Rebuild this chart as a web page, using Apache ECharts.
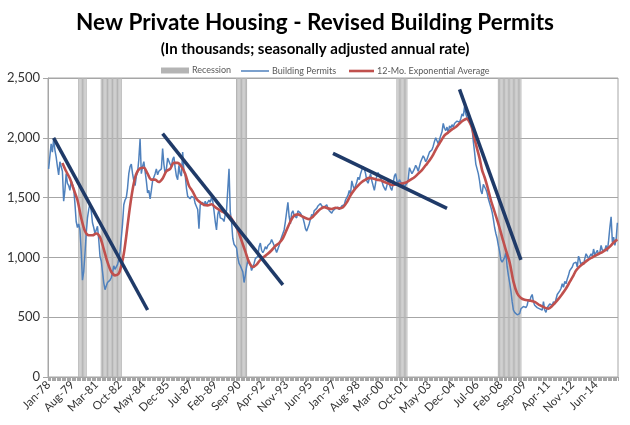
<!DOCTYPE html>
<html>
<head>
<meta charset="utf-8">
<script src="https://cdn.jsdelivr.net/npm/echarts@6/dist/echarts.min.js"></script>
<style>html,body{margin:0;padding:0;background:#fff}#c{width:630px;height:425px}</style>
</head>
<body>
<div id="c"></div>
<script>
// ---- DATA ----
const startYear = 1978;
const monthNames = ['Jan','Feb','Mar','Apr','May','Jun','Jul','Aug','Sep','Oct','Nov','Dec'];
const tickLabels = ['Jan-78','Aug-79','Mar-81','Oct-82','May-84','Dec-85','Jul-87','Feb-89','Sep-90','Apr-92','Nov-93','Jun-95','Jan-97','Aug-98','Mar-00','Oct-01','May-03','Dec-04','Jul-06','Feb-08','Sep-09','Apr-11','Nov-12','Jun-14'];
const yTicks = [0, 500, 1000, 1500, 2000, 2500];

// Building permits, thousands SAAR, monthly Jan-78 .. Nov-15
const permits = [
1740,1730,1950,1880,1990,1900,1840,1760,1690,1800,1790,1720,
1470,1560,1700,1620,1600,1560,1640,1650,1580,1450,1300,1250,
1280,1230,1050,810,880,1030,1200,1330,1400,1450,1390,1290,
1250,1200,1230,1260,1150,1010,970,880,790,730,760,790,
800,810,830,870,930,900,920,940,980,1050,1160,1280,
1440,1480,1500,1580,1700,1760,1780,1700,1640,1600,1680,1710,
1820,1990,1700,1760,1800,1720,1640,1540,1560,1490,1560,1640,
1650,1700,1740,1690,1720,1710,1740,1910,1780,1700,1740,1830,
1840,1780,1760,1820,1840,1750,1680,1650,1770,1700,1680,1880,
1720,1690,1580,1510,1520,1490,1510,1500,1500,1450,1440,1400,
1240,1440,1450,1460,1430,1470,1440,1450,1480,1460,1500,1470,
1390,1300,1230,1360,1400,1330,1340,1320,1300,1360,1390,1380,
1740,1380,1300,1160,1110,1100,1080,1000,950,930,920,880,
790,850,920,970,960,940,890,920,950,990,1000,1010,
1090,1120,1060,1040,1060,1090,1070,1100,1100,1120,1150,1160,
1100,1090,1040,1070,1100,1140,1170,1200,1230,1300,1380,1460,
1340,1280,1370,1390,1350,1340,1330,1390,1400,1370,1380,1330,
1290,1240,1220,1250,1280,1320,1360,1340,1390,1380,1410,1430,
1420,1450,1430,1430,1420,1430,1440,1410,1390,1400,1370,1390,
1380,1410,1400,1420,1400,1410,1430,1420,1440,1480,1470,1520,
1560,1530,1640,1600,1570,1600,1630,1670,1650,1700,1730,1760,
1740,1700,1640,1620,1660,1700,1640,1640,1560,1620,1690,1710,
1700,1660,1640,1600,1580,1560,1600,1640,1610,1580,1560,1550,
1680,1700,1640,1620,1650,1630,1620,1610,1590,1580,1620,1650,
1750,1740,1700,1720,1740,1770,1750,1720,1760,1800,1790,1850,
1830,1800,1820,1810,1880,1890,1900,1930,1970,2000,2010,1950,
1950,2020,2050,2120,2080,2060,2090,2040,2100,2080,2110,2090,
2120,2130,2140,2150,2130,2160,2200,2180,2260,2200,2170,2140,
2180,2140,2080,1970,1880,1780,1740,1700,1640,1560,1530,1610,
1620,1570,1540,1490,1480,1420,1380,1320,1250,1200,1160,1100,
1050,980,960,980,1000,1040,920,850,790,720,630,560,
540,550,520,510,530,570,580,590,600,580,600,650,
630,670,690,630,600,590,580,580,570,560,560,630,
560,540,580,570,610,620,600,630,610,650,690,700,
720,740,780,750,800,780,820,850,890,880,920,950,
940,960,920,1010,980,930,960,940,990,1030,1010,990,
1000,1030,1010,1070,1020,1010,1060,1020,1040,1100,1060,1060,
1060,1100,1050,1140,1250,1340,1130,1170,1100,1150,1290
];

// 12-month exponential average, read at [month index, value]
const emaPoints = [
[11,1790],[14,1720],[17,1660],[20,1570],[23,1480],[26,1330],[29,1220],[32,1185],[35,1185],[38,1200],
[41,1170],[44,1070],[47,960],[50,880],[53,850],[56,865],[58,930],[60,1030],[62,1180],[64,1350],
[66,1500],[68,1620],[70,1700],[73,1745],[76,1750],[79,1700],[82,1650],[85,1650],[88,1630],[91,1660],
[94,1720],[97,1740],[100,1790],[103,1790],[106,1760],[109,1700],[112,1600],[115,1550],[118,1490],[121,1460],
[124,1440],[127,1435],[130,1445],[133,1420],[136,1400],[139,1380],[142,1365],[145,1340],[148,1290],[151,1230],
[154,1140],[157,1050],[160,960],[163,920],[166,940],[169,980],[172,1005],[175,1030],[178,1060],[181,1095],
[184,1120],[187,1160],[190,1230],[193,1300],[196,1350],[199,1360],[202,1345],[205,1330],[208,1320],[211,1340],
[214,1375],[217,1405],[220,1420],[223,1410],[226,1405],[229,1415],[232,1410],[235,1420],[238,1460],[241,1520],
[244,1565],[247,1600],[250,1630],[253,1650],[256,1665],[259,1660],[262,1650],[265,1645],[268,1630],[271,1620],
[274,1605],[277,1610],[280,1615],[283,1620],[286,1630],[289,1650],[292,1670],[295,1700],[298,1730],[301,1770],
[304,1810],[307,1860],[310,1920],[313,1970],[316,2020],[319,2045],[322,2070],[325,2090],[328,2120],[331,2145],
[334,2160],[336,2130],[338,2080],[340,1990],[342,1910],[344,1830],[346,1730],[348,1670],[350,1600],[353,1480],
[356,1380],[359,1280],[362,1170],[365,1060],[368,960],[371,800],[374,700],[377,660],[380,645],[384,640],
[388,628],[392,600],[396,580],[399,572],[402,595],[406,640],[410,695],[413,740],[416,795],[419,850],
[421,890],[424,925],[427,950],[430,975],[433,995],[436,1012],[439,1030],[442,1045],[445,1065],[448,1090],
[451,1125],[454,1150]
];

// Recessions (month indices from Jan-78)
const recessionStart = [24, 42, 150, 278, 359];
const recessionEnd   = [30, 58, 158, 286, 377];
const recessionLevel = 2500;

// Hand-drawn trend lines: [[startMonth, value], [endMonth, value]]
const trendLines = [
  [[4, 2000], [79, 560]],
  [[91, 2035], [187, 770]],
  [[227, 1870], [318, 1410]],
  [[328, 2405], [377, 980]]
];

// ---- BUILD ----
const categories = permits.map((_, i) => monthNames[i % 12] + '-' + String((startYear + Math.floor(i / 12)) % 100).padStart(2, '0'));
const recession = permits.map((_, i) => {
  for (let k = 0; k < recessionStart.length; k++) {
    if (i >= recessionStart[k] && i <= recessionEnd[k]) return recessionLevel;
  }
  return '-';
});

const font = 'Lato, "Open Sans", sans-serif';
const chart = echarts.init(document.getElementById('c'), null, {renderer: 'canvas'});

const series = [
  {name: 'Recession', type: 'bar', data: recession, barWidth: '82%', itemStyle: {color: '#b4b4b4'}, silent: true, z: 1, animation: false},
  {name: 'Building Permits', type: 'line', data: permits, symbol: 'none', lineStyle: {color: '#4f81bd', width: 1.5}, itemStyle: {color: '#4f81bd'}, z: 3, animation: false},
  {name: '12-Mo. Exponential Average', type: 'line', data: emaPoints, symbol: 'none', smooth: 0.3, lineStyle: {color: '#c0504d', width: 2.6}, itemStyle: {color: '#c0504d'}, z: 4, animation: false}
];
trendLines.forEach((tl, k) => {
  series.push({name: 'trend' + k, type: 'line', data: tl, symbol: 'none', lineStyle: {color: '#1f3a68', width: 3.5}, z: 5, animation: false, silent: true});
});

const legendText = {fontFamily: font, fontSize: 9, color: '#595959', padding: [0, 0, 0, -2]};
chart.setOption({
  animation: false,
  title: [
    {text: 'New Private Housing - Revised Building Permits', left: 'center', top: 6,
     textStyle: {fontFamily: font, fontWeight: 'bold', fontSize: 22.5, color: '#000'}},
    {text: '(In thousands; seasonally adjusted annual rate)', left: 'center', top: 37,
     textStyle: {fontFamily: font, fontWeight: 'bold', fontSize: 15, color: '#000'}}
  ],
  legend: [
    {top: 61, left: 156, itemWidth: 28, itemHeight: 6, data: [{name: 'Recession', icon: 'rect'}], textStyle: legendText},
    {top: 61.5, left: 236, itemWidth: 28, itemHeight: 1.5, data: [{name: 'Building Permits', icon: 'rect'}], textStyle: legendText},
    {top: 61.5, left: 344, itemWidth: 25, itemHeight: 2.6, data: [{name: '12-Mo. Exponential Average', icon: 'rect'}], textStyle: legendText}
  ],
  grid: {left: 48, right: 12, top: 78, bottom: 48, show: true, borderColor: '#a6a6a6', borderWidth: 1},
  xAxis: {
    type: 'category', data: categories, boundaryGap: true,
    axisLine: {lineStyle: {color: '#a6a6a6'}},
    axisTick: {show: true, interval: 0, length: 4, lineStyle: {color: '#a6a6a6'}},
    axisLabel: {
      interval: (idx) => idx % 19 === 0,
      formatter: (val, idx) => tickLabels[idx / 19] || val,
      rotate: 45, fontFamily: font, fontSize: 11.5, color: '#333', margin: 6
    },
    splitLine: {show: false}
  },
  yAxis: {
    type: 'value', min: yTicks[0], max: yTicks[yTicks.length - 1], interval: 500,
    axisLine: {show: true, lineStyle: {color: '#a6a6a6'}},
    axisTick: {show: true, length: 5, lineStyle: {color: '#a6a6a6'}},
    axisLabel: {fontFamily: font, fontSize: 13, color: '#333', margin: 8,
      formatter: (v) => v.toLocaleString('en-US')},
    splitLine: {lineStyle: {color: '#a6a6a6'}}
  },
  series: series
});
</script>
</body>
</html>
